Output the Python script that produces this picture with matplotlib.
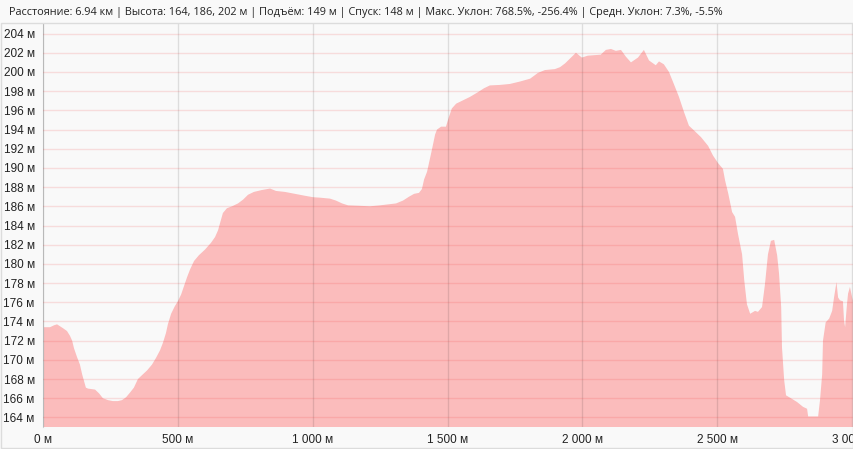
import numpy as np
import matplotlib.pyplot as plt
from matplotlib.ticker import FuncFormatter, MultipleLocator
from matplotlib.patches import Rectangle

# elevation profile (distance in m, height in m)
dist = [0, 26, 41, 52, 74, 89, 100, 108, 115, 126, 137, 145, 152, 159, 167,
        193, 208, 222, 241, 259, 278, 293, 308, 323, 337, 352, 367, 386, 404,
        419, 434, 445, 456, 463, 475, 489, 500, 512, 523, 534, 545, 560, 578,
        601, 623, 638, 649, 660, 667, 682, 701, 723, 742, 760, 782, 812, 842,
        864, 897, 934, 971, 1001, 1027, 1064, 1086, 1109, 1131, 1175, 1212,
        1250, 1279, 1309, 1335, 1357, 1376, 1394, 1405, 1413, 1424, 1435, 1442,
        1454, 1461, 1476, 1494, 1505, 1516, 1532, 1554, 1583, 1613, 1635, 1657,
        1694, 1731, 1768, 1806, 1835, 1861, 1898, 1917, 1936, 1954, 1976, 1998,
        2020, 2068, 2087, 2106, 2124, 2143, 2161, 2180, 2206, 2228, 2247, 2272,
        2284, 2302, 2321, 2339, 2358, 2377, 2395, 2414, 2440, 2466, 2484, 2503,
        2521, 2529, 2541, 2555, 2566, 2577, 2592, 2600, 2610, 2622, 2640, 2651,
        2666, 2677, 2688, 2699, 2711, 2722, 2729, 2737, 2740, 2748, 2755, 2770,
        2796, 2818, 2833, 2837, 2874, 2881, 2889, 2892, 2902, 2915, 2926, 2933,
        2942, 2948, 2955, 2966, 2970, 2974, 2981, 2985, 2992, 3000, 3007, 3018]
elev = [173.4, 173.4, 173.6, 173.7, 173.3, 173.0, 172.5, 172.0, 171.2, 170.3,
        169.5, 168.5, 167.8, 167.1, 167.0, 166.9, 166.5, 166.0, 165.8, 165.7,
        165.7, 165.8, 166.1, 166.6, 167.1, 168.0, 168.4, 168.9, 169.5, 170.2,
        171.0, 171.8, 172.8, 173.7, 174.8, 175.6, 176.1, 176.8, 177.7, 178.6,
        179.4, 180.3, 180.9, 181.5, 182.2, 182.8, 183.5, 184.6, 185.3, 185.8,
        186.0, 186.3, 186.7, 187.2, 187.5, 187.7, 187.85, 187.6, 187.5, 187.3,
        187.1, 186.95, 186.9, 186.8, 186.6, 186.3, 186.1, 186.05, 186.0, 186.1,
        186.2, 186.3, 186.6, 187.0, 187.3, 187.4, 187.8, 188.8, 189.6, 191.0,
        191.9, 193.5, 194.0, 194.3, 194.3, 195.3, 196.2, 196.7, 197.0, 197.4,
        197.9, 198.3, 198.6, 198.65, 198.75, 199.0, 199.3, 199.9, 200.2, 200.3,
        200.5, 200.9, 201.4, 202.0, 201.5, 201.7, 201.8, 202.3, 202.4, 202.2,
        202.3, 201.6, 201.0, 201.5, 202.3, 201.2, 200.7, 201.1, 200.8, 200.0,
        198.75, 197.4, 195.8, 194.4, 193.9, 193.2, 192.3, 191.3, 190.5, 189.9,
        188.7, 187.3, 185.4, 184.9, 183.1, 181.0, 178.3, 175.8, 174.8, 175.1,
        175.0, 175.5, 177.9, 181.0, 182.4, 182.5, 180.9, 179.0, 175.5, 171.3,
        167.9, 166.3, 166.05, 165.6, 165.1, 164.9, 164.1, 164.1, 165.8, 168.5,
        172.0, 173.9, 174.3, 175.1, 176.5, 178.1, 176.5, 176.2, 176.1, 174.1,
        173.4, 175.8, 176.9, 177.6, 176.5, 175.8, 175.5]

header = ("Расстояние: 6.94 км | Высота: 164, 186, 202 м | Подъём: 149 м | "
          "Спуск: 148 м | Макс. Уклон: 768.5%, -256.4% | Средн. Уклон: 7.3%, -5.5%")

bg = '#f9f9f9'
plt.rcParams['font.family'] = ['Liberation Sans', 'DejaVu Sans']

fig = plt.figure(figsize=(8.54, 4.49), dpi=100, facecolor=bg)
ax = fig.add_axes([43 / 854, 22 / 449, 811 / 854, 403 / 449], facecolor=bg)

ax.fill_between(dist, elev, 150, color='#fbbcbc', lw=0, zorder=1)

ax.set_xlim(0, 3007)
ax.set_ylim(163, 205)

ax.xaxis.set_major_locator(MultipleLocator(500))
ax.yaxis.set_major_locator(MultipleLocator(2))
ax.xaxis.set_major_formatter(FuncFormatter(lambda v, p: '{:,.0f} м'.format(v).replace(',', ' ')))
ax.yaxis.set_major_formatter(FuncFormatter(lambda v, p: '%d м' % v))

ax.tick_params(length=0, labelsize=8.5, labelcolor='#222222')
ax.tick_params(axis='y', pad=6)
ax.tick_params(axis='x', pad=5)

# grid drawn over the fill, semi-transparent like the original
ax.set_axisbelow(False)
ax.grid(True)
ax.tick_params(axis='y', grid_color='#f03030', grid_alpha=0.14, grid_linewidth=1)
ax.tick_params(axis='x', grid_color='#000000', grid_alpha=0.11, grid_linewidth=1)

for s in ['top', 'right', 'bottom']:
    ax.spines[s].set_visible(False)
ax.spines['left'].set_color('#d0d0d0')

# outer frame of the widget
fig.patches.append(Rectangle((1 / 854, 1.5 / 449), 852 / 854, 424.5 / 449,
                             transform=fig.transFigure, fill=False,
                             edgecolor='#dcdcdc', lw=1))

fig.text(9 / 854, 1 - 12 / 449, header, fontsize=7.8, color='#222222',
         va='center', ha='left', family=['Open Sans', 'DejaVu Sans'])

fig.savefig('out.png', dpi=100, facecolor=bg)
